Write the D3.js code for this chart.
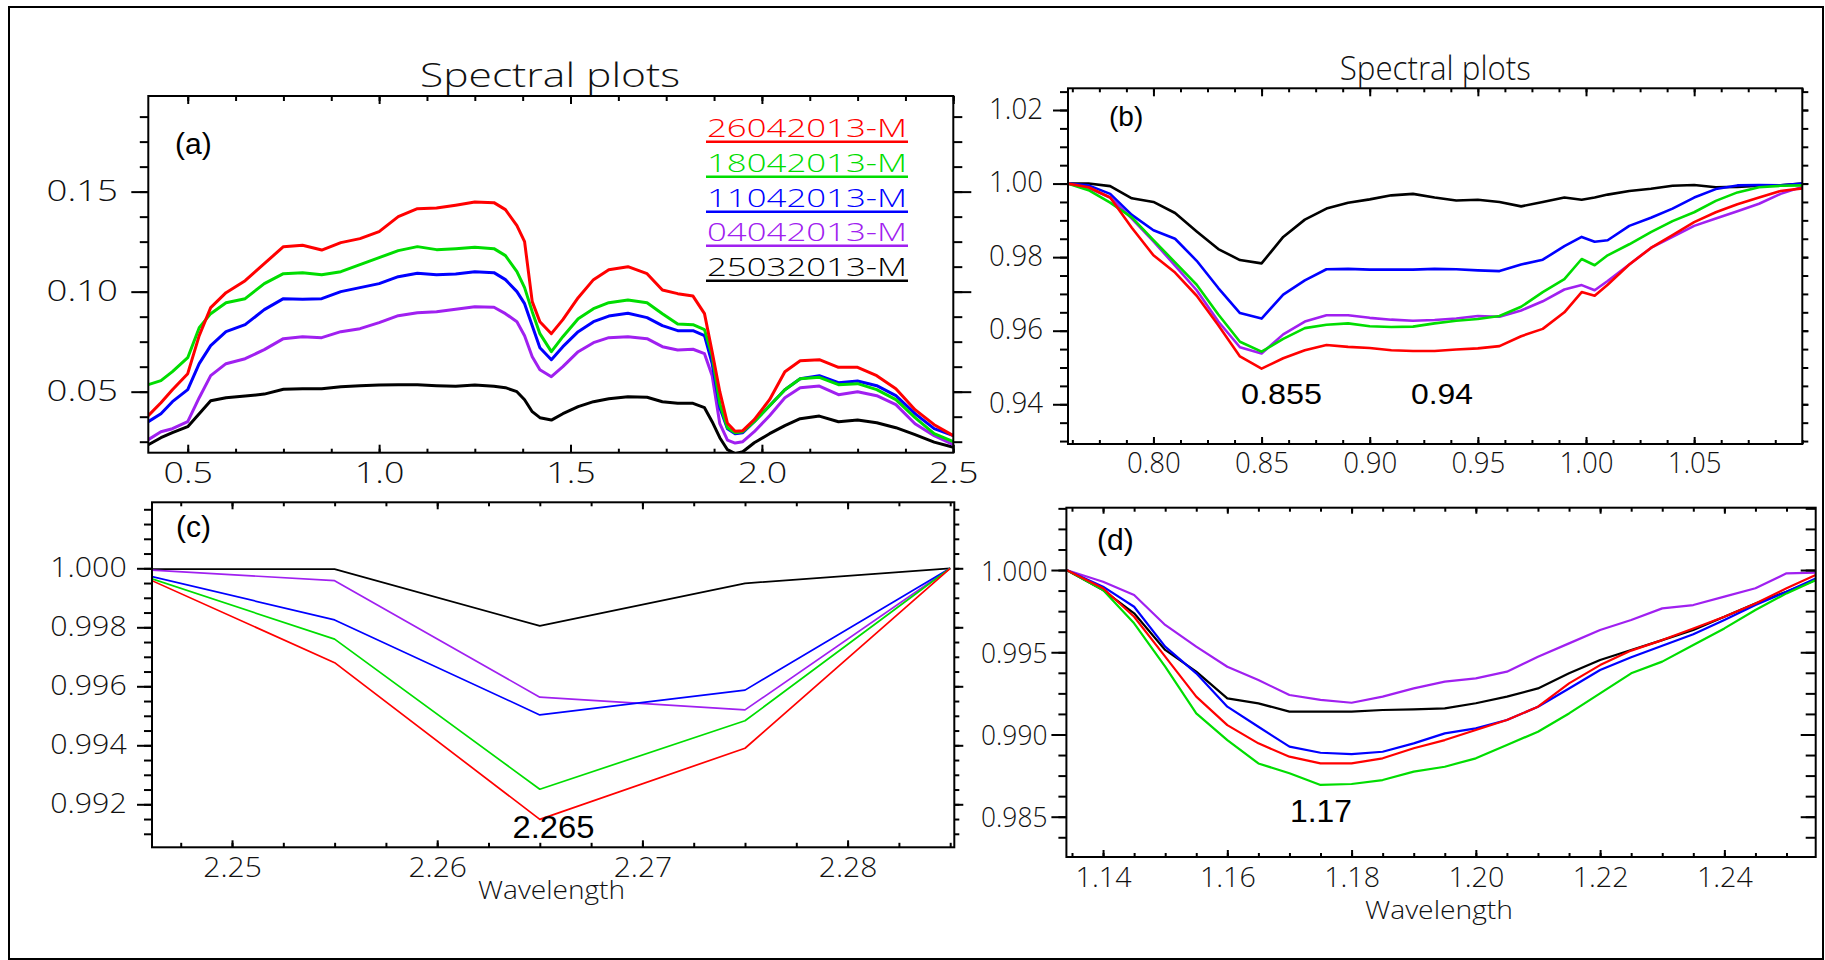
<!DOCTYPE html>
<html><head><meta charset="utf-8">
<script src="https://cdn.jsdelivr.net/npm/d3@7"></script>
<style>html,body{margin:0;padding:0;background:#fff;}svg{display:block;}</style>
</head><body>
<svg id="chart" width="1825" height="960"></svg>
<script>
// ---------------- DATA ----------------
const seriesNames = ["26042013-M","18042013-M","11042013-M","04042013-M","25032013-M"];
const seriesColors = ["#ff0000","#00dd00","#0000ff","#a020f0","#000000"];

// Panel (a): reflectance spectra
const waveA = [0.397,0.43,0.46,0.50,0.53,0.56,0.60,0.65,0.70,0.75,
  0.80,0.85,0.90,0.95,1.00,1.05,1.10,1.15,1.20,1.25,
  1.30,1.33,1.36,1.38,1.40,1.42,1.45,1.48,1.52,1.56,
  1.60,1.65,1.70,1.74,1.78,1.82,1.85,1.87,1.89,1.91,
  1.93,1.95,1.98,2.02,2.06,2.10,2.15,2.20,2.25,2.30,
  2.35,2.40,2.45,2.50];
const redA = [0.038,0.0445,0.051,0.059,0.078,0.092,0.0995,0.1055,0.114,0.1225,
  0.1232,0.1208,0.1245,0.1265,0.130,0.1375,0.1415,0.1418,0.1432,0.1448,
  0.1445,0.141,0.133,0.125,0.095,0.085,0.079,0.086,0.097,0.106,
  0.111,0.1125,0.109,0.1008,0.099,0.0978,0.089,0.070,0.050,0.0342,
  0.0302,0.0305,0.036,0.046,0.060,0.0655,0.066,0.0622,0.0622,0.058,
  0.0515,0.041,0.0335,0.028];
const greenA = [0.0535,0.0555,0.060,0.067,0.082,0.089,0.0945,0.0965,0.104,0.109,
  0.1095,0.1085,0.110,0.1135,0.117,0.1205,0.1225,0.121,0.1215,0.1222,
  0.1215,0.118,0.110,0.102,0.090,0.079,0.070,0.0775,0.0865,0.0915,
  0.0945,0.0958,0.0945,0.089,0.0838,0.0835,0.081,0.068,0.044,0.032,
  0.0295,0.030,0.035,0.043,0.051,0.0565,0.0572,0.0535,0.054,0.051,
  0.046,0.037,0.029,0.025];
const blueA = [0.035,0.039,0.045,0.051,0.064,0.073,0.080,0.0835,0.091,0.0965,
  0.0962,0.0965,0.100,0.102,0.104,0.1075,0.1092,0.1085,0.1088,0.110,
  0.1095,0.106,0.100,0.094,0.083,0.072,0.066,0.0725,0.080,0.085,
  0.0878,0.0892,0.087,0.083,0.0805,0.0805,0.078,0.064,0.042,0.0315,
  0.029,0.0295,0.035,0.043,0.051,0.0565,0.058,0.0545,0.0553,0.053,
  0.048,0.039,0.0315,0.028];
const purpleA = [0.026,0.030,0.0315,0.035,0.047,0.058,0.064,0.0665,0.071,0.0765,
  0.0775,0.077,0.080,0.0815,0.0845,0.088,0.0895,0.090,0.0912,0.0925,
  0.0922,0.089,0.085,0.078,0.0675,0.061,0.0575,0.0625,0.070,0.0745,
  0.077,0.0775,0.0765,0.0725,0.0708,0.0712,0.069,0.058,0.034,0.0258,
  0.0243,0.025,0.030,0.038,0.047,0.052,0.0528,0.0485,0.050,0.048,
  0.0435,0.034,0.028,0.0235];
const blackA = [0.0235,0.027,0.0295,0.0325,0.039,0.0455,0.047,0.0478,0.0488,0.0512,
  0.0515,0.0515,0.0525,0.053,0.0533,0.0535,0.0535,0.053,0.0527,0.0533,
  0.0527,0.052,0.050,0.046,0.040,0.037,0.0358,0.039,0.0425,0.045,
  0.0465,0.0475,0.0472,0.045,0.0442,0.0442,0.042,0.035,0.027,0.021,
  0.019,0.020,0.0245,0.029,0.033,0.0365,0.0378,0.035,0.0358,0.0345,
  0.032,0.0285,0.0248,0.0222];

// Panel (b): continuum removed 0.76-1.10
const waveB = [0.7605,0.77,0.78,0.79,0.80,0.81,0.82,0.83,0.84,0.85,
  0.86,0.87,0.88,0.89,0.90,0.91,0.92,0.93,0.94,0.95,
  0.96,0.97,0.98,0.99,0.998,1.004,1.01,1.02,1.03,1.04,
  1.05,1.06,1.07,1.08,1.09,1.10];
const redB = [1.000,0.9990,0.9962,0.9880,0.9805,0.9758,0.9695,0.9615,0.9530,0.9497,
  0.9525,0.9547,0.9561,0.9556,0.9553,0.9547,0.9545,0.9545,0.9549,0.9552,
  0.9558,0.9585,0.9605,0.9650,0.9705,0.9695,0.9725,0.9780,0.9825,0.9860,
  0.9895,0.9922,0.9944,0.9962,0.9980,0.9987];
const greenB = [1.000,0.9982,0.9948,0.9908,0.9846,0.9786,0.9725,0.9644,0.9570,0.9543,
  0.9578,0.9607,0.9616,0.9620,0.9612,0.9610,0.9611,0.9620,0.9627,0.9632,
  0.9640,0.9665,0.9705,0.9740,0.9795,0.9778,0.9805,0.9835,0.9868,0.9898,
  0.9922,0.9953,0.9976,0.9990,0.9994,0.9995];
const blueB = [1.000,0.9995,0.9972,0.9915,0.9873,0.9850,0.9790,0.9716,0.9648,0.9633,
  0.9698,0.9737,0.9767,0.9768,0.9766,0.9766,0.9766,0.9768,0.9767,0.9764,
  0.9762,0.9780,0.9793,0.9830,0.9855,0.9842,0.9846,0.9885,0.9907,0.9932,
  0.9962,0.9985,0.9995,0.9996,0.9995,1.000];
const purpleB = [1.000,0.9988,0.9962,0.9905,0.9843,0.9777,0.9710,0.9625,0.9555,0.9538,
  0.9590,0.9625,0.9642,0.9642,0.9635,0.9630,0.9627,0.9629,0.9633,0.9640,
  0.9638,0.9655,0.9680,0.9712,0.9724,0.9710,0.9735,0.9780,0.9825,0.9855,
  0.9885,0.9905,0.9925,0.9945,0.9972,0.9991];
const blackB = [1.000,1.000,0.9993,0.9960,0.9950,0.9920,0.9870,0.9822,0.9792,0.9783,
  0.9855,0.9902,0.9932,0.9948,0.9957,0.9968,0.9972,0.9962,0.9954,0.9956,
  0.9950,0.9938,0.9950,0.9962,0.9956,0.9962,0.9970,0.9980,0.9986,0.9994,
  0.9996,0.9990,0.9991,0.9994,0.9995,1.000];

// Panel (c): continuum removed 2.246-2.285
const waveC = [2.2461,2.255,2.265,2.275,2.285];
const redC = [0.99958,0.99680,0.99149,0.99390,1.0000];
const greenC = [0.99964,0.99760,0.99251,0.99483,1.0000];
const blueC = [0.99972,0.99825,0.99503,0.99587,1.0000];
const purpleC = [0.99994,0.99958,0.99563,0.99520,1.0000];
const blackC = [0.99997,0.99997,0.99805,0.99949,1.0000];

// Panel (d): continuum removed 1.134-1.255
const waveD = [1.1341,1.14,1.145,1.15,1.155,1.16,1.165,1.17,1.175,1.18,
  1.185,1.19,1.195,1.20,1.205,1.21,1.215,1.22,1.225,1.23,
  1.235,1.24,1.245,1.25,1.2547];
const redD = [1.0000,0.99889,0.99716,0.99473,0.99230,0.99057,0.98946,0.98865,0.98824,0.98824,
  0.98855,0.98916,0.98966,0.99027,0.99088,0.99169,0.99311,0.99422,0.99510,0.99574,
  0.99645,0.99716,0.99797,0.99889,0.99970];
const greenD = [1.0000,0.99878,0.99676,0.99412,0.99128,0.98966,0.98824,0.98764,0.98693,0.98699,
  0.98723,0.98774,0.98804,0.98855,0.98936,0.99017,0.99128,0.99250,0.99372,0.99443,
  0.99544,0.99645,0.99757,0.99858,0.99939];
const blueD = [1.0000,0.99899,0.99777,0.99534,0.99372,0.99169,0.99047,0.98926,0.98889,0.98881,
  0.98895,0.98946,0.99007,0.99037,0.99088,0.99169,0.99280,0.99392,0.99470,0.99540,
  0.99610,0.99696,0.99787,0.99868,0.99949];
const purpleD = [1.0000,0.99929,0.99848,0.99666,0.99534,0.99412,0.99331,0.99240,0.99210,0.99193,
  0.99230,0.99280,0.99321,0.99341,0.99382,0.99473,0.99554,0.99635,0.99696,0.99767,
  0.99787,0.99838,0.99889,0.99980,0.99984];
const blackD = [1.0000,0.99878,0.99737,0.99514,0.99382,0.99220,0.99189,0.99139,0.99139,0.99139,
  0.99149,0.99153,0.99159,0.99190,0.99230,0.99280,0.99372,0.99453,0.99514,0.99574,
  0.99635,0.99716,0.99797,0.99868,0.99939];

// Tick values and labels
const xMajorA = [0.5,1.0,1.5,2.0,2.5];           const xLabelsA = ["0.5","1.0","1.5","2.0","2.5"];
const yMajorA = [0.05,0.10,0.15];                const yLabelsA = ["0.05","0.10","0.15"];
const xMajorB = [0.80,0.85,0.90,0.95,1.00,1.05]; const xLabelsB = ["0.80","0.85","0.90","0.95","1.00","1.05"];
const yMajorB = [0.94,0.96,0.98,1.00,1.02];      const yLabelsB = ["0.94","0.96","0.98","1.00","1.02"];
const xMajorC = [2.25,2.26,2.27,2.28];           const xLabelsC = ["2.25","2.26","2.27","2.28"];
const yMajorC = [0.992,0.994,0.996,0.998,1.000]; const yLabelsC = ["0.992","0.994","0.996","0.998","1.000"];
const xMajorD = [1.14,1.16,1.18,1.20,1.22,1.24]; const xLabelsD = ["1.14","1.16","1.18","1.20","1.22","1.24"];
const yMajorD = [0.985,0.990,0.995,1.000];       const yLabelsD = ["0.985","0.990","0.995","1.000"];

const titleText = "Spectral plots";
const xAxisTitle = "Wavelength";
const panelTags = ["(a)","(b)","(c)","(d)"];
const bandNotesB = ["0.855","0.94"];
const bandNoteC = "2.265";
const bandNoteD = "1.17";

// ---------------- DRAWING ----------------
const svg = d3.select('#chart');
const HFONT = "'Open Sans','DejaVu Sans',sans-serif";
const AFONT = "'Liberation Sans',Arial,sans-serif";

svg.append('rect').attr('x',0).attr('y',0).attr('width',1825).attr('height',960).attr('fill','#fff');
// outer frame
svg.append('rect').attr('x',9).attr('y',7).attr('width',1814).attr('height',952).attr('fill','none').attr('stroke','#000').attr('stroke-width',2);

function hersheyLen(s, ppu){ let u=0; for(const c of s) u += (c==='.')?10:20; return ppu*(u-5); }
function minorTicks(domain, step){
  const lo=Math.ceil(domain[0]/step-1e-9), hi=Math.floor(domain[1]/step+1e-9);
  return d3.range(lo,hi+1).map(k=>+(k*step).toFixed(6));
}

const panels = [
  {id:'a', left:148.3, right:953.3, top:96, bottom:452.7, xDomain:[0.397,2.5], yDomain:[0.0195,0.1978],
   xMajor:xMajorA, xLabels:xLabelsA, yMajor:yMajorA, yLabels:yLabelsA, xMinor:0.125, yMinor:0.0125,
   wave:waveA, series:[blackA,purpleA,blueA,greenA,redA], lw:3,
   tk:{bMaj:8,bMin:4,tMaj:8,tMin:5,lMaj:17,lMin:8.5,rMaj:18,rMin:9},
   ppu:1.1, ppuY:1.1, fs:29, xLabY:30.6, yLabX:30.3, yLabDy:9},
  {id:'b', left:1068, right:1802.3, top:88.3, bottom:444, xDomain:[0.7605,1.10], yDomain:[0.9292,1.0259],
   xMajor:xMajorB, xLabels:xLabelsB, yMajor:yMajorB, yLabels:yLabelsB, xMinor:0.0125, yMinor:0.005,
   wave:waveB, series:[blackB,purpleB,blueB,greenB,redB], lw:2.6,
   tk:{bMaj:7,bMin:4,tMaj:8,tMin:4,lMaj:15,lMin:8,rMaj:6,rMin:6},
   ppu:0.83, ppuY:0.83, fs:30, xLabY:29.3, yLabX:25, yLabDy:8},
  {id:'c', left:152, right:954.3, top:502.3, bottom:847.3, xDomain:[2.2461,2.2852], yDomain:[0.990542,1.002237],
   xMajor:xMajorC, xLabels:xLabelsC, yMajor:yMajorC, yLabels:yLabelsC, xMinor:0.0025, yMinor:0.0005,
   wave:waveC, series:[blackC,purpleC,blueC,greenC,redC], lw:1.7,
   tk:{bMaj:7,bMin:4.5,tMaj:7,tMin:4,lMaj:15,lMin:8,rMaj:9,rMin:5},
   ppu:0.9, ppuY:0.9, fs:28, xLabY:29.4, yLabX:25.3, yLabDy:8},
  {id:'d', left:1066.4, right:1815.7, top:507.7, bottom:857, xDomain:[1.1341,1.2547], yDomain:[0.98255,1.00379],
   xMajor:xMajorD, xLabels:xLabelsD, yMajor:yMajorD, yLabels:yLabelsD, xMinor:0.005, yMinor:0.00125,
   wave:waveD, series:[blackD,purpleD,blueD,greenD,redD], lw:2.2,
   tk:{bMaj:7,bMin:4,tMaj:6,tMin:4,lMaj:15,lMin:8,rMaj:-15,rMin:-10},
   ppu:0.86, ppuY:0.78, fs:28, xLabY:30.3, yLabX:19, yLabDy:10, yLabClip:980},
];
const lineColorOrder = ["#000000","#a020f0","#0000ff","#00dd00","#ff0000"];

function styleTicks(sel){ sel.select('.domain').remove(); sel.selectAll('line').attr('stroke','#000').attr('stroke-width',2); }

panels.forEach(p=>{
  const x = d3.scaleLinear().domain(p.xDomain).range([p.left,p.right]);
  const y = d3.scaleLinear().domain(p.yDomain).range([p.bottom,p.top]);
  const g = svg.append('g').attr('class','panel-'+p.id);

  const clipId = 'clip-'+p.id;
  svg.append('clipPath').attr('id',clipId).append('rect')
    .attr('x',p.left).attr('y',p.top).attr('width',p.right-p.left).attr('height',p.bottom-p.top);

  const line = d3.line().x((d,i)=>x(p.wave[i])).y(d=>y(d));
  const lg = g.append('g').attr('clip-path',`url(#${clipId})`);
  p.series.forEach((s,k)=>{
    lg.append('path').attr('d',line(s)).attr('fill','none').attr('stroke',lineColorOrder[k])
      .attr('stroke-width',p.lw).attr('stroke-linejoin','round');
  });

  const xMin = minorTicks(p.xDomain,p.xMinor), yMin = minorTicks(p.yDomain,p.yMinor);
  // bottom
  g.append('g').attr('transform',`translate(0,${p.bottom})`)
    .call(d3.axisBottom(x).tickValues(xMin).tickSize(-p.tk.bMin).tickFormat('')).call(styleTicks);
  const bx = g.append('g').attr('transform',`translate(0,${p.bottom})`)
    .call(d3.axisBottom(x).tickValues(p.xMajor).tickSize(-p.tk.bMaj).tickFormat((d,i)=>p.xLabels[i])).call(styleTicks);
  bx.selectAll('text').attr('y',p.xLabY).attr('dy',null).attr('font-size',p.fs).attr('font-family',HFONT)
    .attr('font-weight',300).attr('fill','#111').attr('text-anchor','middle')
    .attr('textLength',(d,i)=>hersheyLen(p.xLabels[i],p.ppu)).attr('lengthAdjust','spacingAndGlyphs');
  // top
  g.append('g').attr('transform',`translate(0,${p.top})`)
    .call(d3.axisTop(x).tickValues(xMin).tickSize(-p.tk.tMin).tickFormat('')).call(styleTicks);
  g.append('g').attr('transform',`translate(0,${p.top})`)
    .call(d3.axisTop(x).tickValues(p.xMajor).tickSize(-p.tk.tMaj).tickFormat('')).call(styleTicks);
  // left
  g.append('g').attr('transform',`translate(${p.left},0)`)
    .call(d3.axisLeft(y).tickValues(yMin).tickSize(p.tk.lMin).tickFormat('')).call(styleTicks);
  const ly = g.append('g').attr('transform',`translate(${p.left},0)`)
    .call(d3.axisLeft(y).tickValues(p.yMajor).tickSize(p.tk.lMaj).tickFormat((d,i)=>p.yLabels[i])).call(styleTicks);
  ly.selectAll('text').attr('x',-p.yLabX).attr('y',p.yLabDy).attr('dy',null).attr('font-size',p.fs)
    .attr('font-family',HFONT).attr('font-weight',300).attr('fill','#111').attr('text-anchor','end')
    .attr('textLength',(d,i)=>hersheyLen(p.yLabels[i],p.ppuY)).attr('lengthAdjust','spacingAndGlyphs');
  if (p.yLabClip){
    const cid='ylab-'+p.id;
    svg.append('clipPath').attr('id',cid).append('rect').attr('x',p.yLabClip-p.left).attr('y',-2000).attr('width',2000).attr('height',4000);
    ly.selectAll('.tick text').attr('clip-path',`url(#${cid})`);
  }
  // right
  g.append('g').attr('transform',`translate(${p.right},0)`)
    .call(d3.axisRight(y).tickValues(yMin).tickSize(p.tk.rMin).tickFormat('')).call(styleTicks);
  g.append('g').attr('transform',`translate(${p.right},0)`)
    .call(d3.axisRight(y).tickValues(p.yMajor).tickSize(p.tk.rMaj).tickFormat('')).call(styleTicks);
  // frame
  g.append('rect').attr('x',p.left).attr('y',p.top).attr('width',p.right-p.left).attr('height',p.bottom-p.top)
    .attr('fill','none').attr('stroke','#000').attr('stroke-width',2);
  p.x = x; p.y = y;
});

function htext(x,y,txt,fs,len,anchor){
  return svg.append('text').attr('x',x).attr('y',y).text(txt).attr('font-family',HFONT).attr('font-weight',300)
    .attr('font-size',fs).attr('fill','#111').attr('text-anchor',anchor||'start')
    .attr('textLength',len).attr('lengthAdjust','spacingAndGlyphs');
}
// titles
htext(550,87,titleText,33,260,'middle');
htext(1435.3,79.5,titleText,33,191,'middle');
// x-axis titles
htext(551.5,899,xAxisTitle,25,147,'middle');
htext(1439,919,xAxisTitle,25,148,'middle');

// legend (panel a)
const legendBase = [136.7,171.7,206.7,240.7,275.7];
seriesNames.forEach((n,i)=>{
  htext(707,legendBase[i],n,26,200,'start').attr('fill',seriesColors[i]);
  svg.append('line').attr('x1',706).attr('x2',908).attr('y1',legendBase[i]+5).attr('y2',legendBase[i]+5)
    .attr('stroke',seriesColors[i]).attr('stroke-width',2.6);
});

function atext(x,y,txt,fs,len){
  const t = svg.append('text').attr('x',x).attr('y',y).text(txt).attr('font-family',AFONT)
    .attr('font-size',fs).attr('fill','#000');
  if(len) t.attr('textLength',len).attr('lengthAdjust','spacingAndGlyphs');
  return t;
}
atext(175,153.5,panelTags[0],30);
atext(1109,126,panelTags[1],28);
atext(176,537,panelTags[2],30);
atext(1097,550,panelTags[3],30);
atext(1241,404,bandNotesB[0],29,81);
atext(1411,404,bandNotesB[1],29,62);
atext(512.5,838.3,bandNoteC,32,82);
atext(1290,821.7,bandNoteD,32,62);
</script>
</body></html>
